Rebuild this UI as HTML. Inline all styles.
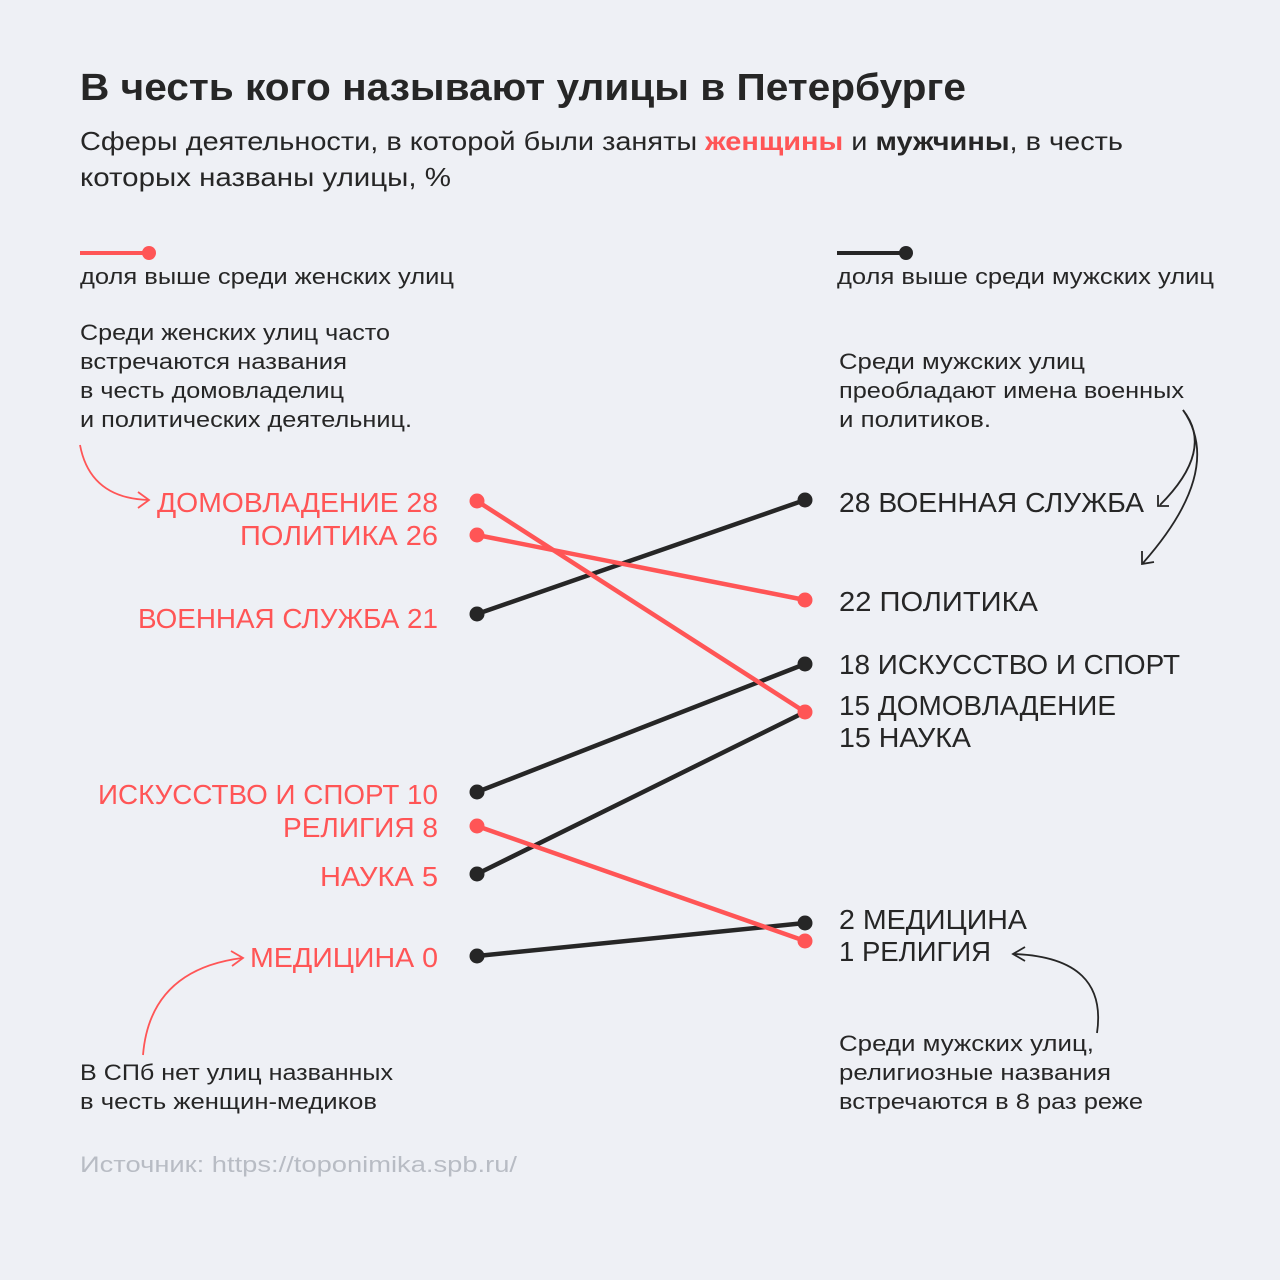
<!DOCTYPE html>
<html><head><meta charset="utf-8"><style>
body{margin:0;background:#eef0f5}
svg{display:block}
text{font-family:"Liberation Sans","DejaVu Sans",sans-serif}
</style></head><body>
<svg width="1280" height="1280" viewBox="0 0 1280 1280" xmlns="http://www.w3.org/2000/svg">
<rect width="1280" height="1280" fill="#eef0f5"/>
<text x="80" y="100" font-size="38" font-weight="bold" fill="#262626" textLength="886" lengthAdjust="spacingAndGlyphs">В честь кого называют улицы в Петербурге</text>
<text x="80" y="150" font-size="26" fill="#262626" textLength="1043" lengthAdjust="spacingAndGlyphs">Сферы деятельности, в которой были заняты <tspan fill="#ff5556" font-weight="bold">женщины</tspan> и <tspan font-weight="bold">мужчины</tspan>, в честь</text>
<text x="80" y="186" font-size="26" fill="#262626" textLength="371" lengthAdjust="spacingAndGlyphs">которых названы улицы, %</text>

<line x1="80" y1="253" x2="148" y2="253" stroke="#ff5556" stroke-width="4"/><circle cx="149" cy="253" r="7" fill="#ff5556"/>
<text x="80" y="284" font-size="22" fill="#262626" textLength="374" lengthAdjust="spacingAndGlyphs">доля выше среди женских улиц</text>
<line x1="837" y1="253" x2="905" y2="253" stroke="#262626" stroke-width="4"/><circle cx="906" cy="253" r="7" fill="#262626"/>
<text x="837" y="284" font-size="22" fill="#262626" textLength="377" lengthAdjust="spacingAndGlyphs">доля выше среди мужских улиц</text>

<g font-size="22" fill="#262626">
<text x="80" y="340" textLength="310" lengthAdjust="spacingAndGlyphs">Среди женских улиц часто</text>
<text x="80" y="369" textLength="267" lengthAdjust="spacingAndGlyphs">встречаются названия</text>
<text x="80" y="398" textLength="264" lengthAdjust="spacingAndGlyphs">в честь домовладелиц</text>
<text x="80" y="427" textLength="332" lengthAdjust="spacingAndGlyphs">и политических деятельниц.</text>
<text x="839" y="369" textLength="246" lengthAdjust="spacingAndGlyphs">Среди мужских улиц</text>
<text x="839" y="398" textLength="345" lengthAdjust="spacingAndGlyphs">преобладают имена военных</text>
<text x="839" y="427" textLength="152" lengthAdjust="spacingAndGlyphs">и политиков.</text>
<text x="80" y="1080" textLength="313" lengthAdjust="spacingAndGlyphs">В СПб нет улиц названных</text>
<text x="80" y="1109" textLength="297" lengthAdjust="spacingAndGlyphs">в честь женщин-медиков</text>
<text x="839" y="1051" textLength="255" lengthAdjust="spacingAndGlyphs">Среди мужских улиц,</text>
<text x="839" y="1080" textLength="272" lengthAdjust="spacingAndGlyphs">религиозные названия</text>
<text x="839" y="1109" textLength="304" lengthAdjust="spacingAndGlyphs">встречаются в 8 раз реже</text>
</g>
<text x="80" y="1172" font-size="22" fill="#b8bcc4" textLength="437" lengthAdjust="spacingAndGlyphs">Источник: https://toponimika.spb.ru/</text>

<g font-size="28" fill="#ff5556">
<text x="157" y="512" textLength="281" lengthAdjust="spacingAndGlyphs">ДОМОВЛАДЕНИЕ 28</text>
<text x="240" y="545" textLength="198" lengthAdjust="spacingAndGlyphs">ПОЛИТИКА 26</text>
<text x="138" y="628" textLength="300" lengthAdjust="spacingAndGlyphs">ВОЕННАЯ СЛУЖБА 21</text>
<text x="98" y="804" textLength="340" lengthAdjust="spacingAndGlyphs">ИСКУССТВО И СПОРТ 10</text>
<text x="283" y="837" textLength="155" lengthAdjust="spacingAndGlyphs">РЕЛИГИЯ 8</text>
<text x="320" y="886" textLength="118" lengthAdjust="spacingAndGlyphs">НАУКА 5</text>
<text x="250" y="967" textLength="188" lengthAdjust="spacingAndGlyphs">МЕДИЦИНА 0</text>
</g>
<g font-size="28" fill="#262626">
<text x="839" y="512" textLength="305" lengthAdjust="spacingAndGlyphs">28 ВОЕННАЯ СЛУЖБА</text>
<text x="839" y="611" textLength="199" lengthAdjust="spacingAndGlyphs">22 ПОЛИТИКА</text>
<text x="839" y="674" textLength="341" lengthAdjust="spacingAndGlyphs">18 ИСКУССТВО И СПОРТ</text>
<text x="839" y="715" textLength="277" lengthAdjust="spacingAndGlyphs">15 ДОМОВЛАДЕНИЕ</text>
<text x="839" y="747" textLength="132" lengthAdjust="spacingAndGlyphs">15 НАУКА</text>
<text x="839" y="929" textLength="188" lengthAdjust="spacingAndGlyphs">2 МЕДИЦИНА</text>
<text x="839" y="961" textLength="152" lengthAdjust="spacingAndGlyphs">1 РЕЛИГИЯ</text>
</g>

<g stroke-width="4.5" stroke-linecap="round">
<line x1="477" y1="614" x2="805" y2="500" stroke="#262626"/>
<line x1="477" y1="792" x2="805" y2="664" stroke="#262626"/>
<line x1="477" y1="874" x2="805" y2="712" stroke="#262626"/>
<line x1="477" y1="956" x2="805" y2="923" stroke="#262626"/>
<line x1="477" y1="501" x2="805" y2="712" stroke="#ff5556"/>
<line x1="477" y1="535" x2="805" y2="600" stroke="#ff5556"/>
<line x1="477" y1="826" x2="805" y2="941" stroke="#ff5556"/>
</g>
<g fill="#262626">
<circle cx="477" cy="614" r="7.5"/><circle cx="805" cy="500" r="7.5"/>
<circle cx="477" cy="792" r="7.5"/><circle cx="805" cy="664" r="7.5"/>
<circle cx="477" cy="874" r="7.5"/>
<circle cx="477" cy="956" r="7.5"/><circle cx="805" cy="923" r="7.5"/>
</g>
<g fill="#ff5556">
<circle cx="477" cy="501" r="7.5"/><circle cx="805" cy="712" r="7.5"/>
<circle cx="477" cy="535" r="7.5"/><circle cx="805" cy="600" r="7.5"/>
<circle cx="477" cy="826" r="7.5"/><circle cx="805" cy="941" r="7.5"/>
</g>

<g fill="none" stroke-width="1.8">
<path d="M80 445 Q90 498 148 500" stroke="#ff5556"/>
<path d="M138 492 L149 500 L138 508" stroke="#ff5556"/>
<path d="M143 1055 Q150 970 242 958" stroke="#ff5556"/>
<path d="M231 951 L243 958 L232 966" stroke="#ff5556"/>
<path d="M1183 410 Q1215 450 1160 505" stroke="#262626"/>
<path d="M1158 495 L1158 506 L1169 506" stroke="#262626"/>
<path d="M1183 410 Q1225 470 1143 563" stroke="#262626"/>
<path d="M1142 551 L1142 564 L1154 562" stroke="#262626"/>
<path d="M1097 1033 Q1108 958 1015 954" stroke="#262626"/>
<path d="M1025 947 L1013 954 L1025 961" stroke="#262626"/>
</g>
</svg>
</body></html>
